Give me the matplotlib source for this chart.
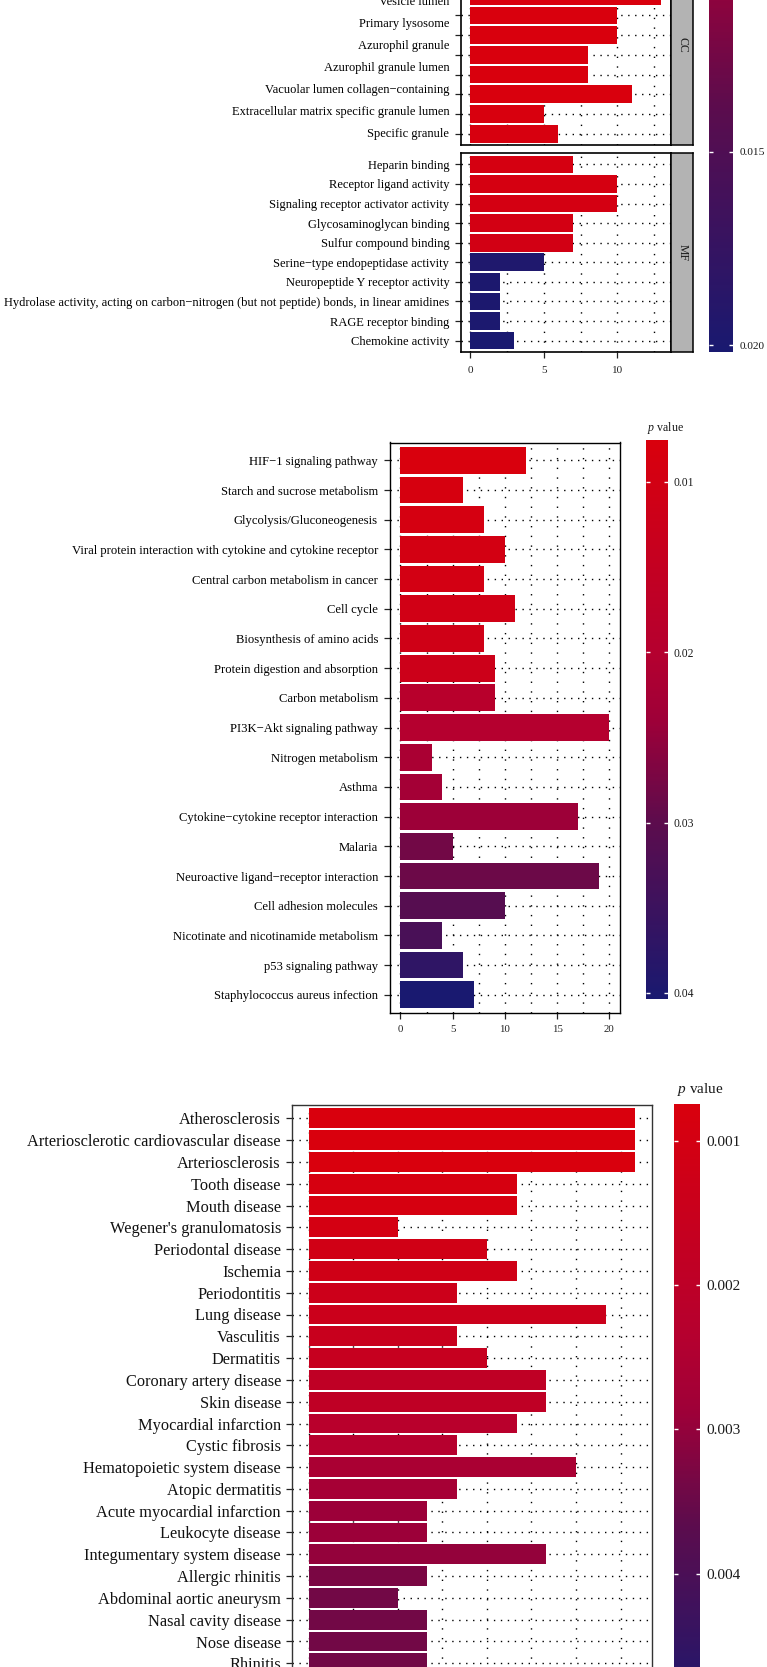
import numpy as np
import matplotlib
matplotlib.use("Agg")
import matplotlib.pyplot as plt
from matplotlib.colors import LinearSegmentedColormap, Normalize
from matplotlib.cm import ScalarMappable
from matplotlib.ticker import MultipleLocator, FormatStrFormatter
import matplotlib.transforms as mtrans

plt.rcParams["font.family"] = ["Liberation Serif", "DejaVu Serif"]
plt.rcParams["mathtext.fontset"] = "custom"
plt.rcParams["mathtext.it"] = "Liberation Serif:italic"
plt.rcParams["mathtext.rm"] = "Liberation Serif"

# ---------------- data ----------------
# GO cellular component (labels as printed; 8 bars, 7 printed labels)
go_cc_labels = ["Vesicle lumen", "Primary lysosome", "Azurophil granule",
                "Azurophil granule lumen", "Vacuolar lumen collagen\u2212containing",
                "Extracellular matrix specific granule lumen", "Specific granule"]
go_cc_counts = [13, 10, 10, 8, 8, 11, 5, 6]
go_cc_p = [3.0e-6, 2.0e-5, 2.0e-5, 6.0e-5, 9.0e-5, 1.5e-4, 2.5e-4, 4.0e-4]

# GO molecular function
go_mf_terms = ["Heparin binding", "Receptor ligand activity",
               "Signaling receptor activator activity", "Glycosaminoglycan binding",
               "Sulfur compound binding", "Serine\u2212type endopeptidase activity",
               "Neuropeptide Y receptor activity",
               "Hydrolase activity, acting on carbon\u2212nitrogen (but not peptide) bonds, in linear amidines",
               "RAGE receptor binding", "Chemokine activity"]
go_mf_counts = [7, 10, 10, 7, 7, 5, 2, 2, 2, 3]
go_mf_p = [0.0008, 0.0010, 0.0011, 0.0013, 0.0015, 0.0196, 0.0198, 0.0198, 0.0199, 0.02017]
go_cbar_ticks = [0.005, 0.010, 0.015, 0.020]

# KEGG
kegg_terms = ["HIF\u22121 signaling pathway", "Starch and sucrose metabolism",
              "Glycolysis/Gluconeogenesis",
              "Viral protein interaction with cytokine and cytokine receptor",
              "Central carbon metabolism in cancer", "Cell cycle",
              "Biosynthesis of amino acids", "Protein digestion and absorption",
              "Carbon metabolism", "PI3K\u2212Akt signaling pathway", "Nitrogen metabolism",
              "Asthma", "Cytokine\u2212cytokine receptor interaction", "Malaria",
              "Neuroactive ligand\u2212receptor interaction", "Cell adhesion molecules",
              "Nicotinate and nicotinamide metabolism", "p53 signaling pathway",
              "Staphylococcus aureus infection"]
kegg_counts = [12, 6, 8, 10, 8, 11, 8, 9, 9, 20, 3, 4, 17, 5, 19, 10, 4, 6, 7]
kegg_p = [0.00757, 0.0085, 0.0090, 0.0095, 0.0098, 0.0105, 0.0110, 0.0120, 0.0190,
          0.0200, 0.0220, 0.0230, 0.0240, 0.0280, 0.0285, 0.0310, 0.0330, 0.0370, 0.04037]
kegg_cbar_ticks = [0.01, 0.02, 0.03, 0.04]

# Disease
dis_terms = ["Atherosclerosis", "Arteriosclerotic cardiovascular disease",
             "Arteriosclerosis", "Tooth disease", "Mouth disease",
             "Wegener's granulomatosis", "Periodontal disease", "Ischemia",
             "Periodontitis", "Lung disease", "Vasculitis", "Dermatitis",
             "Coronary artery disease", "Skin disease", "Myocardial infarction",
             "Cystic fibrosis", "Hematopoietic system disease", "Atopic dermatitis",
             "Acute myocardial infarction", "Leukocyte disease",
             "Integumentary system disease", "Allergic rhinitis",
             "Abdominal aortic aneurysm", "Nasal cavity disease", "Nose disease", "Rhinitis"]
dis_counts = [11, 11, 11, 7, 7, 3, 6, 7, 5, 10, 5, 6, 8, 8, 7, 5, 9, 5, 4, 4, 8, 4, 3, 4, 4, 4]
dis_p = [0.000746, 0.000746, 0.00076, 0.00088, 0.00088, 0.00098, 0.00115, 0.0012,
         0.00135, 0.0014, 0.0015, 0.0016, 0.0019, 0.0019, 0.0022, 0.0023, 0.0026,
         0.0027, 0.0029, 0.0029, 0.0030, 0.0033, 0.0034, 0.0034, 0.0034, 0.0034]
dis_p_max = 0.0050
dis_cbar_ticks = [0.001, 0.002, 0.003, 0.004, 0.005]

# colour scale stops (low p -> high p)
cmap_stops = [0.0, 0.38, 0.5, 0.685, 1.0]
cmap_colors = ["#D9000D", "#B5002F", "#9E0038", "#5C0C4D", "#191970"]
cmap = LinearSegmentedColormap.from_list("pval", list(zip(cmap_stops, cmap_colors)))

# ---------------- figure ----------------
W, H = 767, 1667
fig = plt.figure(figsize=(W / 100, H / 100), dpi=100)


def px_axes(l, t, r, b):
    return fig.add_axes([l / W, 1 - b / H, (r - l) / W, (b - t) / H])


HGRID_KW = dict(color="black", linestyle=(0, (1, 4)), linewidth=1.0)
VGRID_KW = dict(color="black", linestyle=(0, (1, 6)), linewidth=1.0)


def bar_panel(ax, counts, pvals, norm, xlim, ylim, major, minor, frame_lw=1.0,
              frame_color="black"):
    y = np.arange(len(counts))
    ax.set_axisbelow(True)
    ax.barh(y, counts, height=0.9, color=cmap(norm(np.asarray(pvals))),
            edgecolor="none", zorder=2)
    ax.set_xlim(*xlim)
    ax.set_ylim(*ylim)
    ax.set_yticks(y)
    ax.xaxis.set_major_locator(MultipleLocator(major))
    ax.xaxis.set_minor_locator(MultipleLocator(minor))
    ax.grid(axis="x", which="both", **VGRID_KW)
    ax.grid(axis="y", which="major", **HGRID_KW)
    ax.tick_params(axis="both", which="major", length=4, width=0.9, color="#222222",
                   pad=4.2)
    ax.tick_params(axis="x", which="minor", length=0)
    for s in ax.spines.values():
        s.set_linewidth(frame_lw)
        s.set_color(frame_color)
    return ax


def strip(l, t, r, b, text, size):
    sax = px_axes(l, t, r, b)
    sax.set_facecolor("#B3B3B3")
    sax.set_xticks([])
    sax.set_yticks([])
    for s in sax.spines.values():
        s.set_linewidth(1.1)
        s.set_color("black")
    sax.text(0.5, 0.5, text, rotation=-90, ha="center", va="center",
             fontsize=size, color="#1A1A1A", transform=sax.transAxes)


def colorbar(l, t, r, b, norm, ticks, fmt, size):
    cax = px_axes(l, t, r, b)
    cb = fig.colorbar(ScalarMappable(norm=norm, cmap=cmap), cax=cax)
    cb.outline.set_visible(False)
    cax.set_ylim(norm.vmax, norm.vmin)
    cb.set_ticks(ticks)
    cax.yaxis.set_major_formatter(FormatStrFormatter(fmt))
    cax.tick_params(axis="y", which="both", direction="in", left=True, right=True,
                    length=3.2, width=1.0, color="#FFFFFF", labelsize=size, pad=4.5,
                    labelcolor="#1A1A1A")
    cax.minorticks_off()
    return cax


# ---------- GO panel (CC + MF) ----------
go_norm = Normalize(min(go_cc_p + go_mf_p), max(go_cc_p + go_mf_p))
GO_ROW = 19.7
go_xlim = (-0.65, 13.65)
GO_FONT = 9.0
cc_bottom = 145.5
cc_top = cc_bottom - 10.2 * GO_ROW
ax_cc = px_axes(460.7, cc_top, 671, cc_bottom)
bar_panel(ax_cc, go_cc_counts, go_cc_p, go_norm, go_xlim,
          (len(go_cc_counts) - 0.4, -2.6), 5, 2.5, frame_lw=1.2)
ax_cc.set_yticklabels([])
ax_cc.tick_params(axis="x", which="both", bottom=False, labelbottom=False)
label_step = 1.117
n_cc = len(go_cc_counts)
lab_trans = mtrans.offset_copy(
    mtrans.blended_transform_factory(ax_cc.transAxes, ax_cc.transData),
    fig=fig, x=-8.3, y=0, units="points")
for i, lab in enumerate(go_cc_labels):
    ypos = (n_cc - 1) - (len(go_cc_labels) - 1 - i) * label_step
    ax_cc.text(0, ypos, lab, transform=lab_trans, ha="right", va="center",
               fontsize=GO_FONT, color="black")
strip(671, cc_top, 693.3, cc_bottom, "CC", 8.5)

mf_top, mf_bottom = 152.6, 352.4
ax_mf = px_axes(460.7, mf_top, 671, mf_bottom)
bar_panel(ax_mf, go_mf_counts, go_mf_p, go_norm, go_xlim,
          (len(go_mf_counts) - 0.4, -0.6), 5, 2.5, frame_lw=1.2)
ax_mf.set_yticklabels(go_mf_terms, fontsize=GO_FONT, color="black")
ax_mf.tick_params(axis="x", labelsize=8, labelcolor="#222222", pad=5.5)
strip(671, mf_top, 693.3, mf_bottom, "MF", 8.5)

go_px_per_p = 193.3 / 0.005
go_cb_bottom = 351.7
go_cb_top = go_cb_bottom - (go_norm.vmax - go_norm.vmin) * go_px_per_p
colorbar(709.3, go_cb_top, 733.3, go_cb_bottom, go_norm, go_cbar_ticks, "%.3f", 8.2)

# ---------- KEGG panel ----------
kegg_norm = Normalize(min(kegg_p), max(kegg_p))
ax_k = px_axes(389.5, 442.5, 620.4, 1012.6)
bar_panel(ax_k, kegg_counts, kegg_p, kegg_norm, (-1.05, 21.05),
          (len(kegg_counts) - 0.4, -0.6), 5, 2.5, frame_lw=1.0)
ax_k.set_yticklabels(kegg_terms, fontsize=9.1, color="black")
ax_k.tick_params(axis="x", labelsize=7.8, labelcolor="#222222", pad=5)
colorbar(646, 440.2, 667.7, 999.3, kegg_norm, kegg_cbar_ticks, "%.2f", 8.4)
fig.text(646.7 / W, 1 - 428.5 / H, r"$p$ value", ha="left", va="center",
         fontsize=8.6, color="#1A1A1A")

# ---------- Disease panel ----------
dis_norm = Normalize(min(dis_p), dis_p_max)
DIS_ROW = 21.8
dis_top = 1118.3 - 0.6 * DIS_ROW
n_dis_rows = 30
dis_bottom = dis_top + (n_dis_rows + 0.2) * DIS_ROW
ax_d = px_axes(292.3, dis_top, 651.7, dis_bottom)
bar_panel(ax_d, dis_counts, dis_p, dis_norm, (-0.55, 11.55),
          (n_dis_rows - 0.4, -0.6), 3, 1.5, frame_lw=1.0, frame_color="#333333")
ax_d.set_yticklabels(dis_terms, fontsize=11.8, color="#111111")
ax_d.tick_params(axis="x", labelsize=10, labelcolor="#222222")
dis_px_per_p = 144.4 / 0.001
dis_cb_top = 1104
dis_cb_bottom = dis_cb_top + (dis_norm.vmax - dis_norm.vmin) * dis_px_per_p
colorbar(674.3, dis_cb_top, 700, dis_cb_bottom, dis_norm, dis_cbar_ticks, "%.3f", 11)
fig.text(676.7 / W, 1 - 1090 / H, r"$p$ value", ha="left", va="center",
         fontsize=11, color="#1A1A1A")

fig.savefig("out.png", dpi=100, facecolor="white")
